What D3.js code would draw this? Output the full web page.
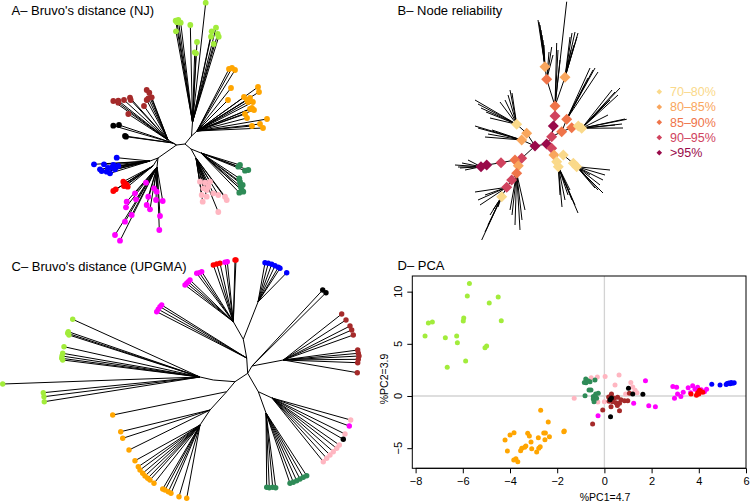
<!DOCTYPE html>
<html><head><meta charset="utf-8">
<script src="https://cdn.jsdelivr.net/npm/d3@7"></script>
<style>body{margin:0;background:#fff}svg{display:block}text{font-family:"Liberation Sans",Arial,Helvetica,sans-serif}</style>
</head><body><svg id="c" width="750" height="503"></svg>
<script>
// ---------- categories & colours ----------
const groupColors = {lg:"#A2EC3B", or:"#FFA500", sg:"#2E8B57", pk:"#FFB6C1", bk:"#000000", br:"#A52A2A", mg:"#FF00FF", rd:"#FF0000", bl:"#0000FF"};
const panelTitles = ["A\u2013 Bruvo's distance (NJ)", "B\u2013 Node reliability", "C\u2013 Bruvo's distance (UPGMA)", "D\u2013 PCA"];
const relLabels = ["70\u201380%","80\u201385%","85\u201390%","90\u201395%",">95%"];
const relColors = ["#FAD98A","#F9A65D","#EF7449","#D0435E","#990A4A"];

// ---------- Tree A (NJ) : internal nodes [id,parent,x,y] in layout units ----------
const treeANodes = [
 ["r1",null,176.5,145],["r2","r1",185,144],["u1","r2",191.5,136],["gH","u1",192.5,122],["oH","u1",197,131],
 ["d1","r2",191,149],["pH","d1",196,158],["sH","d1",201,153],
 ["bH","r1",168,140],["kH","r1",173,143],["l2","r1",158,158],["blH","l2",150,161],["rdH","l2",153,166],["mgH","l2",157,167]
];
// tips [x,y,group] hanging from a hub
const treeATips = [
 ["gH",[[205.7,2.7,"lg"],[175.7,20.7,"lg"],[178.3,20,"lg"],[180.7,22.7,"lg"],[177,22.3,"lg"],[176,31.3,"lg"],[190.3,25,"lg"],[197,42,"lg"],[194.7,52.3,"lg"],[196,53.3,"lg"],[211.7,31.3,"lg"],[216,27.7,"lg"],[217.7,34,"lg"],[218.7,36.7,"lg"],[211,36.7,"lg"],[213.7,44,"lg"]]],
 ["oH",[[229,69,"or"],[232,68,"or"],[235,70,"or"],[231,88,"or"],[228,100,"or"],[258,87,"or"],[259,92,"or"],[244,97,"or"],[247,100,"or"],[250,98,"or"],[253,102,"or"],[248,102,"or"],[250,109,"or"],[252,108,"or"],[254,110,"or"],[245,114,"or"],[247,118,"or"],[267,119,"or"],[260,124,"or"],[263,128,"or"],[252,126,"or"]]],
 ["bH",[[113.3,101,"br"],[118.3,102.7,"br"],[124,100,"br"],[130,97.7,"br"],[130.7,100,"br"],[146.7,90,"br"],[149.3,92.7,"br"],[148.3,98.3,"br"],[151.7,97.3,"br"],[146.7,100,"br"],[144,106,"br"],[128.3,114,"br"],[118.3,100.7,"br"]]],
 ["kH",[[113.3,125.7,"bk"],[119,125,"bk"],[125,136,"bk"],[126,136.7,"bk"]]],
 ["blH",[[94,164.3,"bl"],[100,169.3,"bl"],[104,164.3,"bl"],[106.7,171.7,"bl"],[110,173.3,"bl"],[111.7,167.7,"bl"],[113.3,165,"bl"],[116.7,157.7,"bl"],[115,169.3,"bl"],[118.3,166,"bl"],[101.7,171,"bl"],[108,168,"bl"]]],
 ["rdH",[[113.3,191,"rd"],[115.7,189.3,"rd"],[123.3,181.7,"rd"],[125,183.3,"rd"],[126.7,185,"rd"],[127.7,186.7,"rd"],[124,186,"rd"]]],
 ["mgH",[[146,182.7,"mg"],[135,193.3,"mg"],[136,199.3,"mg"],[126.7,201.7,"mg"],[126,207.3,"mg"],[125,221.7,"mg"],[131.7,215,"mg"],[115,235,"mg"],[120,240.7,"mg"],[154,188.3,"mg"],[156.7,191.7,"mg"],[162.7,201,"mg"],[156,200,"mg"],[148.3,196.7,"mg"],[146.7,205,"mg"],[150,209.3,"mg"],[160,216,"mg"],[159.3,230,"mg"]]],
 ["pH",[[200,181.7,"pk"],[205,182.7,"pk"],[208.3,186.7,"pk"],[203.3,188.3,"pk"],[201.7,195,"pk"],[202.7,201.7,"pk"],[206.7,196.7,"pk"],[213.3,193.3,"pk"],[218.3,195,"pk"],[225,196.7,"pk"],[226.7,200,"pk"],[218.3,212,"pk"],[210,181.7,"pk"],[206.7,190,"pk"]]],
 ["sH",[[238.3,166.7,"sg"],[240,165,"sg"],[245,170.7,"sg"],[248.3,170,"sg"],[239.3,178.3,"sg"],[240,181.7,"sg"],[240.7,186.7,"sg"],[241.7,190,"sg"],[243.3,191.7,"sg"],[239.3,192.7,"sg"],[242.7,185,"sg"]]]
];

// ---------- Tree B (node reliability): nodes [id,parent,x,y,relIndex] ----------
const treeBNodes = [
 ["c1",null,535,146,4],["c2","c1",546.7,144,4],
 ["t1","c2",551.7,136.7,3],["t2","t1",553.3,126,4],["t3","t2",555,116,3],["t4","t3",555,106,2],["t5","t4",546.7,79.3,2],["t6","t5",545,66.7,1],["t7","t4",565,77.3,1],
 ["ru1","t1",561.7,131.7,2],["ru2","ru1",566.7,119.3,2],["ru3","ru1",571.7,127.7,2],["ru4","ru3",578.3,126,0],["ru5","ru4",581.7,128.3,0],
 ["rd1","c2",551.7,148.3,3],["rd2","rd1",554,155,1],["rd3","rd2",556.7,161.7,0],["rd4","rd3",558.3,166.7,0],["rd5","rd2",563.3,155,0],["rd6","rd5",573.3,163.3,0],["rd7","rd6",576.7,166.7,0],
 ["lu1","c1",521.7,140,1],["lu2","c1",526.7,133.3,1],["lu3","lu2",516.7,124.3,0],
 ["ll1","c1",521.7,158.3,3],["ll2","ll1",515,160,2],["ll3","ll2",501,162.7,3],["ll4","ll3",486.7,165,4],["ll5","ll4",481,166.7,4],
 ["ll6","ll1",518.3,165.7,1],["ll7","ll6",516.7,173.3,2],["ll8","ll7",511.7,180,3],["ll9","ll8",506.7,187.3,3],["ll10","ll9",501.7,196.7,0]
];
const treeBTips = [
 ["t6",[[538,20],[539,22],[540,25],[541,30],[542,35],[543,40],[544,45]]],
 ["t5",[[551.7,47],[549,52],[553,55]]],
 ["t4",[[556.7,43],[558,50],[566.7,1.7],[560,60]]],
 ["t7",[[570,37],[572,33],[575,32],[577,37],[578,33],[574,45],[571,50]]],
 ["ru2",[[590,68],[593,70],[595,68],[598,72],[588,78],[585,85]]],
 ["ru5",[[612,90],[615,92],[620,88],[618,95],[610,100],[605,105],[625,119],[622,124],[626.7,119.3],[623,128],[615,125],[608,115]]],
 ["rd7",[[610,170],[605,175],[603,180],[600,185],[603,193],[598,190],[595,188],[590,175]]],
 ["rd4",[[578,213],[575,205],[572,200],[568,195],[570,190],[562,207],[565,200],[560,195]]],
 ["lu3",[[475,100],[478,104],[481,108],[486,112],[490,118],[510,90],[512,93],[508,95],[505,100],[500,102]]],
 ["lu1",[[475,126],[478,128],[485,137],[488,134],[492,130]]],
 ["ll5",[[455,165],[458,167],[460,168],[462,163],[465,170],[468,160]]],
 ["ll9",[[475,192],[478,200],[480,205],[485,195]]],
 ["ll10",[[481.7,240],[485,232],[488,225],[490,215],[493,210],[498,207]]],
 ["ll7",[[520,230],[515,225],[512,215],[510,210],[522,220],[525,210]]]
];

// ---------- Tree C (UPGMA) ----------
const treeCNodes = [
 ["c0",null,247.7,373.3],["up1","c0",246.7,358],["up2","up1",243.3,339.3],["mrH","up2",233.3,321.7],["blH","up2",258,302],
 ["rt1","c0",252,366],["brH","rt1",283.3,360],
 ["dn1","c0",258.3,391.7],["sgH","dn1",266,413],["pkH","dn1",272,398],
 ["lf1","c0",235,381.7],["gr1","lf1",213.3,380],["grH","gr1",200,377],
 ["or1","lf1",226.7,391.7],["or2","or1",210,410],["or3","or2",200,425]
];
const treeCTips = [
 ["grH",[[2.7,384,"lg"],[72.7,319.3,"lg"],[68.3,331.7,"lg"],[67.7,333.3,"lg"],[69,335,"lg"],[64,346.7,"lg"],[62.7,353.3,"lg"],[62,356,"lg"],[61.7,358.3,"lg"],[62.7,360,"lg"],[43.3,392.7,"lg"],[44,396.7,"lg"],[44.3,401.7,"lg"]]],
 ["or1",[[112.7,415,"or"]]],
 ["or2",[[120.7,431.7,"or"],[122.7,438.3,"or"],[129,450,"or"]]],
 ["or3",[[135,460.7,"or"],[138.3,466.7,"or"],[140,470,"or"],[142.7,473.3,"or"],[145,476,"or"],[147.7,478.3,"or"],[150,480,"or"],[154,483.3,"or"],[162.7,489,"or"],[165,490,"or"],[168.3,491.7,"or"],[171,493.3,"or"],[179,496.7,"or"],[186.7,498.3,"or"]]],
 ["up1",[[156.7,311.7,"mg"],[158.3,309.3,"mg"],[160,306.7,"mg"],[161.7,305,"mg"]]],
 ["mrH",[[185,285,"mg"],[186.7,283.3,"mg"],[188.3,281.7,"mg"],[190,280,"mg"],[196.7,273.3,"mg"],[199.3,272.7,"mg"],[201.7,271.7,"mg"],[213.3,265,"rd"],[216.7,264,"rd"],[220,263.3,"rd"],[225,262.3,"mg"],[227.3,261.7,"mg"],[235,260,"rd"],[236,260,"rd"]]],
 ["blH",[[265,262.7,"bl"],[268.3,263.3,"bl"],[271.7,264.3,"bl"],[275,265.7,"bl"],[278.3,267.3,"bl"],[280,268.3,"bl"],[286.7,272.7,"bl"]]],
 ["rt1",[[322.7,290,"bk"],[326,292.7,"bk"]]],
 ["brH",[[341.7,314,"br"],[346,320,"br"],[350,326,"br"],[351.7,330,"br"],[353.3,335,"br"],[357.7,350,"br"],[358.3,353.3,"br"],[359,356,"br"],[358.3,359.3,"br"],[357.7,362.7,"br"],[357.3,372.7,"br"]]],
 ["pkH",[[350.7,420,"pk"],[349.3,426,"mg"],[345,434,"pk"],[343.3,439.3,"bk"],[339.3,445,"pk"],[336.7,448.3,"pk"],[333.3,451.7,"pk"],[330,455,"pk"],[326.7,458.3,"pk"],[323.3,461.7,"pk"]]],
 ["sgH",[[266.7,487.3,"sg"],[269.3,487.7,"sg"],[272.7,487.3,"sg"],[275.7,487.7,"sg"],[290,483.3,"sg"],[293.3,482.3,"sg"],[296.7,480.7,"sg"],[300,479,"sg"],[303.3,477.3,"sg"],[306.7,475.7,"sg"]]]
];

// ---------- PCA scores ----------
const pcaLightgreen = [[-5.72,10.77],[-5.81,9.59],[-4.88,8.92],[-4.5,9.49],[-4.37,7.22],[-7.46,7.0],[-7.29,7.1],[-5.96,7.48],[-5.98,7.19],[-7.6,5.75],[-6.74,5.59],[-6.26,5.75],[-6.23,5.11],[-5.06,4.63],[-4.99,4.79],[-5.88,3.36],[-6.66,2.75]];
const pcaOrange = [[-4.21,-4.22],[-4.11,-5.27],[-4.0,-3.74],[-3.83,-3.52],[-3.84,-6.14],[-3.75,-6.01],[-3.67,-6.3],[-3.55,-5.24],[-3.5,-5.02],[-3.38,-4.92],[-3.33,-4.79],[-3.25,-3.58],[-3.18,-3.84],[-3.11,-4.41],[-3.08,-5.05],[-2.87,-5.37],[-2.8,-4.0],[-2.78,-5.02],[-2.72,-4.86],[-2.7,-1.37],[-2.57,-3.55],[-2.5,-3.55],[-2.52,-4.19],[-2.33,-3.9],[-2.38,-2.49],[-1.72,-3.42],[-1.7,-3.36]];
const pcaPink = [[-1.28,-0.22],[-0.56,1.75],[-0.3,1.82],[0.03,1.88],[0.62,2.01],[0.45,1.05],[1.12,1.3],[1.2,0.85],[1.3,0.55],[1.38,0.3],[-0.28,-0.58],[0.0,-0.55],[0.9,0.2],[0.35,-0.4]];
const pcaSeagreen = [[-0.79,1.63],[-0.78,1.28],[-0.61,1.37],[-0.4,1.53],[-0.7,1.45],[-0.65,0.58],[-0.57,0.58],[-0.82,0.03],[-0.47,-0.06],[-0.37,0.19],[-0.26,0.26],[-0.47,-0.29],[-0.44,-0.55],[-0.33,-0.22],[-0.85,1.3]];
const pcaBrown = [[0.28,0.0],[0.3,0.2],[0.42,-0.22],[0.56,-0.13],[0.35,-0.54],[0.49,-0.64],[0.64,-0.7],[0.7,-0.35],[0.85,-0.45],[0.99,-0.45],[1.06,0.26],[0.64,-1.41],[-0.07,-1.34],[-0.5,-2.68],[0.28,-1.02],[0.18,-0.1],[0.55,-0.9],[0.2,-0.5]];
const pcaBlack = [[1.02,0.74],[1.2,0.18],[1.63,0.16],[0.24,-0.35],[0.26,-1.98],[0.3,-0.2]];
const pcaMagenta = [[1.74,1.47],[1.24,-0.7],[1.88,-0.93],[2.16,-1.02],[-0.27,-1.89],[2.9,0.9],[3.06,0.83],[2.97,-0.22],[3.1,0.19],[3.24,-0.06],[3.34,0.35],[3.55,0.8],[3.74,0.99],[3.84,0.64],[3.95,0.83],[4.24,0.41],[4.33,0.64],[3.65,0.3],[4.1,0.6]];
const pcaRed = [[3.67,0.19],[3.9,0.08],[3.95,0.3],[4.03,0.55],[4.1,0.4],[4.17,0.35],[4.0,0.2]];
const pcaBlue = [[4.55,1.12],[4.9,1.05],[5.16,1.1],[5.2,1.2],[5.27,1.25],[5.33,1.18],[5.37,1.3],[5.44,1.22],[5.5,1.28]];
const pcaSeries = [["lg",pcaLightgreen],["or",pcaOrange],["pk",pcaPink],["sg",pcaSeagreen],["br",pcaBrown],["bk",pcaBlack],["mg",pcaMagenta],["rd",pcaRed],["bl",pcaBlue]];
const pcaXTicks = [-8,-6,-4,-2,0,2,4,6];
const pcaYTicks = [-5,0,5,10];
const pcaXLabel = "%PC1=4.7", pcaYLabel = "%PC2=3.9";

// ---------- drawing ----------
const svg = d3.select("#c");
svg.append("rect").attr("width",750).attr("height",503).attr("fill","#fff");
const lay = d3.scaleLinear().domain([0,1]).range([0,1]); // layout units -> px

function drawTree(nodes, tips, r, withDots){
  const g = svg.append("g");
  const byId = new Map(nodes.map(n=>[n[0],n]));
  const edges = [];
  nodes.forEach(n=>{ if(n[1]) { const p = byId.get(n[1]); edges.push([p[2],p[3],n[2],n[3]]); } });
  tips.forEach(([hub,list])=>{ const h = byId.get(hub); list.forEach(t=>edges.push([h[2],h[3],t[0],t[1]])); });
  g.selectAll("line").data(edges).join("line")
    .attr("x1",d=>lay(d[0])).attr("y1",d=>lay(d[1])).attr("x2",d=>lay(d[2])).attr("y2",d=>lay(d[3]))
    .attr("stroke","#000").attr("stroke-width",1);
  if(withDots){
    const pts = tips.flatMap(([hub,list])=>list);
    g.selectAll("circle").data(pts).join("circle")
      .attr("cx",d=>lay(d[0])).attr("cy",d=>lay(d[1])).attr("r",r).attr("fill",d=>groupColors[d[2]]);
  }
  return g;
}
drawTree(treeANodes, treeATips, 2.9, true);
drawTree(treeCNodes, treeCTips, 2.7, true);
const gB = drawTree(treeBNodes, treeBTips, 0, false);
const diamond = s => `M0,${-s}L${s},0L0,${s}L${-s},0Z`;
gB.selectAll("path.nd").data(treeBNodes).join("path").attr("class","nd")
  .attr("transform",d=>`translate(${lay(d[2])},${lay(d[3])})`).attr("d",diamond(5.5)).attr("fill",d=>relColors[d[4]]);

// legend B
const legY = d3.scalePoint().domain(relLabels).range([91.7,152.7]);
const leg = svg.append("g");
leg.selectAll("path").data(relLabels).join("path")
  .attr("transform",d=>`translate(659.3,${legY(d)})`).attr("d",diamond(2.8)).attr("fill",(d,i)=>relColors[i]);
leg.selectAll("text").data(relLabels).join("text")
  .attr("x",670).attr("y",d=>legY(d)+4.5).attr("font-size",12.5).attr("fill",(d,i)=>relColors[i]).text(d=>d);

// titles
const titlePos = [[11.5,15],[397.5,15],[11.5,270.5],[397.5,269.5]];
svg.selectAll("text.title").data(panelTitles).join("text").attr("class","title")
  .attr("x",(d,i)=>titlePos[i][0]).attr("y",(d,i)=>titlePos[i][1]).attr("font-size",13).attr("fill","#000").text(d=>d);

// PCA panel
const px = d3.scaleLinear().domain([-8.14,6.0]).range([412.3,746]);
const py = d3.scaleLinear().domain([-6.93,11.5]).range([468.3,276]);
const gD = svg.append("g");
gD.append("line").attr("x1",px(0)).attr("x2",px(0)).attr("y1",py.range()[1]).attr("y2",py.range()[0]).attr("stroke","#D3D3D3").attr("stroke-width",1.3);
gD.append("line").attr("y1",py(0)).attr("y2",py(0)).attr("x1",px.range()[0]).attr("x2",px.range()[1]).attr("stroke","#D3D3D3").attr("stroke-width",1.3);
pcaSeries.forEach(([g,pts])=>{
  gD.append("g").selectAll("circle").data(pts).join("circle")
    .attr("cx",d=>px(d[0])).attr("cy",d=>py(d[1])).attr("r",2.5).attr("fill",groupColors[g]);
});
gD.append("rect").attr("x",px.range()[0]).attr("y",py.range()[1]).attr("width",px.range()[1]-px.range()[0]).attr("height",py.range()[0]-py.range()[1])
  .attr("fill","none").attr("stroke","#000").attr("stroke-width",1);
const fmt = d => d<0 ? "\u2212"+(-d) : String(d);
const xAx = gD.append("g").attr("transform",`translate(0,${py.range()[0]})`)
  .call(d3.axisBottom(px).tickValues(pcaXTicks).tickSize(5).tickPadding(4).tickFormat(fmt));
xAx.select(".domain").remove();
xAx.append("line").attr("x1",px(pcaXTicks[0])).attr("x2",px(pcaXTicks[pcaXTicks.length-1])).attr("stroke","#000");
xAx.selectAll("text").attr("font-size",11).attr("fill","#000").attr("font-family","Liberation Sans, Arial, sans-serif");
const yAx = gD.append("g").attr("transform",`translate(${px.range()[0]},0)`)
  .call(d3.axisLeft(py).tickValues(pcaYTicks).tickSize(5).tickFormat(""));
yAx.select(".domain").remove();
yAx.append("line").attr("y1",py(pcaYTicks[0])).attr("y2",py(pcaYTicks[pcaYTicks.length-1])).attr("stroke","#000");
gD.selectAll("text.yt").data(pcaYTicks).join("text").attr("class","yt")
  .attr("transform",d=>`translate(402,${py(d)}) rotate(-90)`).attr("text-anchor","middle").attr("font-size",11).text(fmt);
gD.append("text").attr("x",605).attr("y",501).attr("text-anchor","middle").attr("font-size",10.5).text(pcaXLabel);
gD.append("text").attr("transform",`translate(388,379) rotate(-90)`).attr("text-anchor","middle").attr("font-size",10.5).text(pcaYLabel);
</script></body></html>
